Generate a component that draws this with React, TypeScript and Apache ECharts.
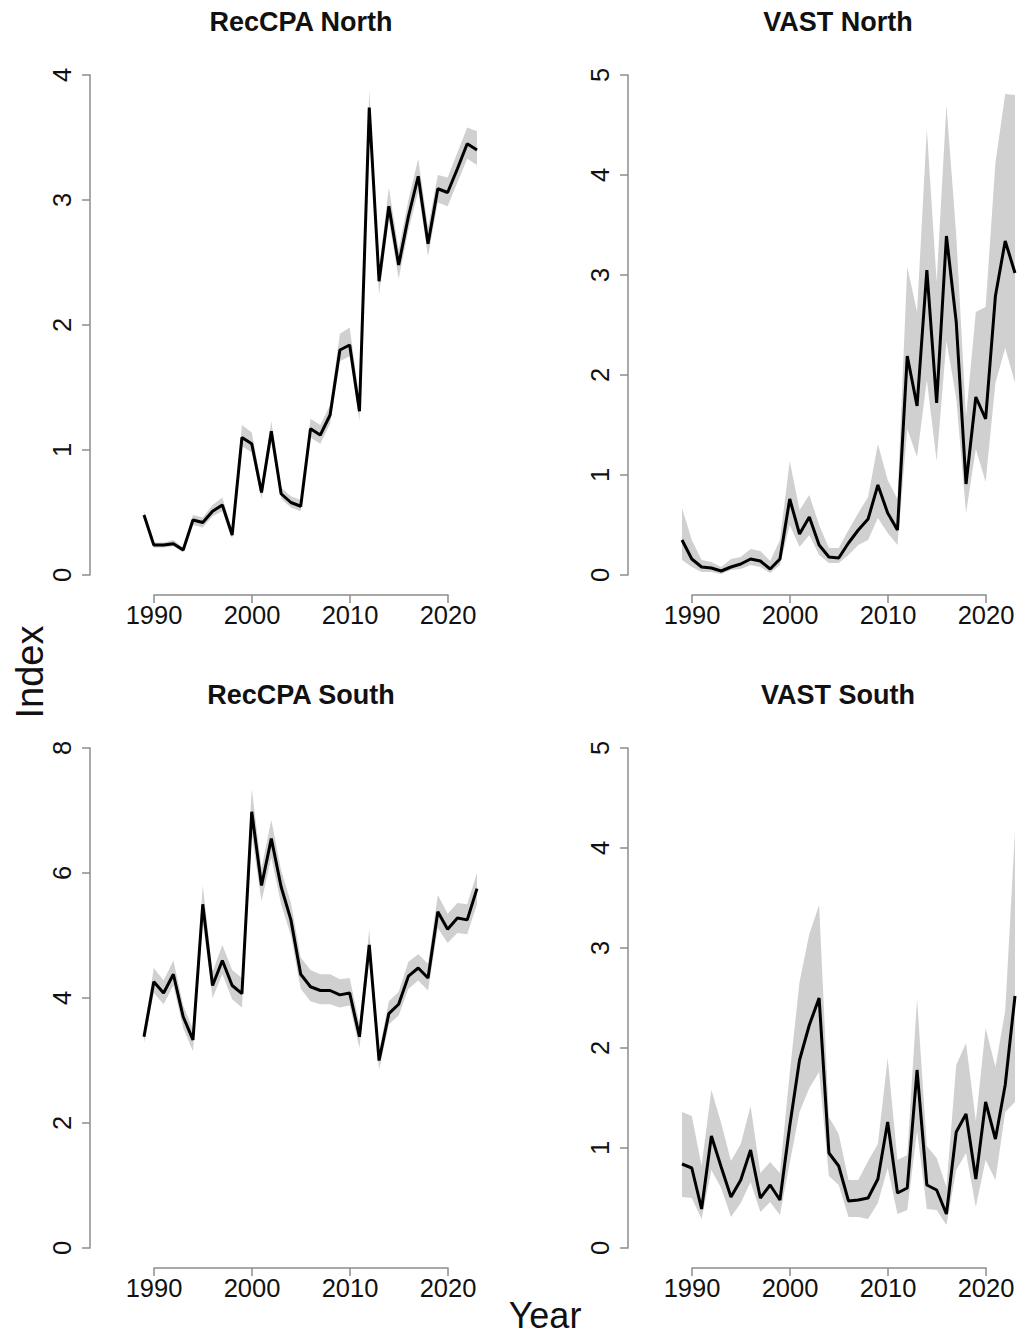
import React, { useEffect, useRef } from "react";
import * as echarts from "echarts";

const years = [1989, 1990, 1991, 1992, 1993, 1994, 1995, 1996, 1997, 1998, 1999, 2000, 2001, 2002, 2003, 2004, 2005, 2006, 2007, 2008, 2009, 2010, 2011, 2012, 2013, 2014, 2015, 2016, 2017, 2018, 2019, 2020, 2021, 2022, 2023];

const xTickMin = 1990;
const xTickMax = 2020;
const xTickStep = 10;

// RecCPA North
const recNorthMean = [0.48, 0.24, 0.24, 0.25, 0.2, 0.44, 0.42, 0.51, 0.56, 0.32, 1.1, 1.05, 0.66, 1.15, 0.65, 0.58, 0.55, 1.17, 1.12, 1.28, 1.8, 1.84, 1.31, 3.74, 2.35, 2.95, 2.48, 2.87, 3.19, 2.65, 3.09, 3.06, 3.25, 3.45, 3.4];
const recNorthLower = [0.45, 0.22, 0.22, 0.23, 0.18, 0.4, 0.38, 0.47, 0.51, 0.29, 1.03, 0.98, 0.61, 1.07, 0.61, 0.54, 0.51, 1.1, 1.05, 1.21, 1.71, 1.75, 1.23, 3.6, 2.24, 2.84, 2.37, 2.76, 3.07, 2.55, 2.98, 2.95, 3.14, 3.33, 3.28];
const recNorthUpper = [0.51, 0.26, 0.26, 0.28, 0.22, 0.48, 0.46, 0.56, 0.62, 0.36, 1.2, 1.14, 0.72, 1.23, 0.7, 0.63, 0.6, 1.25, 1.2, 1.36, 1.93, 1.98, 1.4, 3.88, 2.45, 3.1, 2.6, 3.0, 3.33, 2.78, 3.2, 3.18, 3.38, 3.58, 3.55];

// VAST North
const vastNorthMean = [0.35, 0.16, 0.08, 0.07, 0.04, 0.08, 0.11, 0.16, 0.14, 0.06, 0.16, 0.76, 0.41, 0.58, 0.3, 0.18, 0.17, 0.32, 0.45, 0.56, 0.9, 0.62, 0.45, 2.19, 1.69, 3.05, 1.72, 3.39, 2.53, 0.91, 1.78, 1.56, 2.79, 3.34, 3.02];
const vastNorthLower = [0.15, 0.08, 0.03, 0.03, 0.01, 0.05, 0.06, 0.1, 0.08, 0.02, 0.1, 0.5, 0.28, 0.4, 0.2, 0.12, 0.12, 0.2, 0.3, 0.35, 0.57, 0.42, 0.3, 1.46, 1.18, 1.95, 1.14, 2.34, 1.77, 0.62, 1.26, 0.93, 1.92, 2.27, 1.92];
const vastNorthUpper = [0.67, 0.35, 0.15, 0.13, 0.08, 0.16, 0.18, 0.26, 0.24, 0.14, 0.35, 1.14, 0.65, 0.8, 0.5, 0.27, 0.27, 0.45, 0.62, 0.78, 1.31, 0.95, 0.76, 3.08, 2.63, 4.46, 2.93, 4.7, 3.4, 1.58, 2.63, 2.68, 4.12, 4.81, 4.8];

// RecCPA South
const recSouthMean = [3.38, 4.26, 4.08, 4.38, 3.7, 3.33, 5.5, 4.2, 4.6, 4.2, 4.07, 6.98, 5.8, 6.55, 5.78, 5.25, 4.38, 4.18, 4.12, 4.12, 4.05, 4.08, 3.38, 4.85, 3.0, 3.75, 3.9, 4.35, 4.48, 4.32, 5.38, 5.1, 5.28, 5.25, 5.75];
const recSouthLower = [3.28, 4.08, 3.9, 4.2, 3.52, 3.15, 5.22, 4.0, 4.38, 3.98, 3.85, 6.62, 5.55, 6.25, 5.5, 5.0, 4.15, 3.95, 3.9, 3.9, 3.85, 3.88, 3.2, 4.62, 2.85, 3.58, 3.72, 4.15, 4.28, 4.12, 5.12, 4.88, 5.04, 5.02, 5.5];
const recSouthUpper = [3.48, 4.48, 4.28, 4.6, 3.88, 3.5, 5.8, 4.42, 4.85, 4.45, 4.32, 7.35, 6.08, 6.85, 6.05, 5.52, 4.65, 4.45, 4.38, 4.38, 4.3, 4.32, 3.58, 5.1, 3.15, 3.95, 4.1, 4.58, 4.7, 4.55, 5.65, 5.35, 5.52, 5.5, 6.0];

// VAST South
const vastSouthMean = [0.84, 0.8, 0.39, 1.12, 0.81, 0.51, 0.68, 0.98, 0.5, 0.63, 0.48, 1.22, 1.88, 2.23, 2.5, 0.95, 0.82, 0.47, 0.48, 0.5, 0.69, 1.26, 0.55, 0.6, 1.78, 0.63, 0.58, 0.34, 1.16, 1.34, 0.69, 1.46, 1.09, 1.63, 2.52];
const vastSouthLower = [0.51, 0.5, 0.29, 0.78, 0.6, 0.31, 0.45, 0.66, 0.36, 0.46, 0.33, 0.85, 1.36, 1.6, 1.76, 0.72, 0.63, 0.31, 0.31, 0.29, 0.45, 0.8, 0.34, 0.38, 1.17, 0.39, 0.38, 0.23, 0.78, 0.95, 0.41, 0.88, 0.68, 1.36, 1.46];
const vastSouthUpper = [1.36, 1.32, 0.82, 1.58, 1.25, 0.87, 1.04, 1.42, 0.75, 0.86, 0.75, 1.75, 2.66, 3.14, 3.43, 1.31, 1.14, 0.68, 0.68, 0.87, 1.04, 1.9, 0.88, 0.93, 2.49, 1.02, 0.9, 0.61, 1.83, 2.05, 1.27, 2.2, 1.81, 2.37, 4.17];

const panelTitles = ["RecCPA North", "VAST North", "RecCPA South", "VAST South"];
const panelYMax = [4, 5, 8, 5];
const panelYStep = [1, 1, 2, 1];

const panels = [
  { title: panelTitles[0], mean: recNorthMean, lower: recNorthLower, upper: recNorthUpper, ymax: panelYMax[0], ystep: panelYStep[0] },
  { title: panelTitles[1], mean: vastNorthMean, lower: vastNorthLower, upper: vastNorthUpper, ymax: panelYMax[1], ystep: panelYStep[1] },
  { title: panelTitles[2], mean: recSouthMean, lower: recSouthLower, upper: recSouthUpper, ymax: panelYMax[2], ystep: panelYStep[2] },
  { title: panelTitles[3], mean: vastSouthMean, lower: vastSouthLower, upper: vastSouthUpper, ymax: panelYMax[3], ystep: panelYStep[3] },
];

const FONT = "'Liberation Sans', Arial, Helvetica, sans-serif";
const AXIS_COLOR = "#8c8c8c";
const TEXT_COLOR = "#111111";
const BAND_COLOR = "#d0d0d0";

// layout (pixels)
const colLeft = [144, 682];
const rowTop = [75, 748];
const dataWidth = 333;
const plotHeight = 500;
const tickGridOffsetX = 10; // 1990 position relative to 1989
const tickGridWidth = 294;
const xAxisGap = 20;
const yAxisOffset = 54;
const titleY = [22, 695];
const titleX = [301, 838];

export default function App() {
  const ref = useRef<HTMLDivElement>(null);

  useEffect(() => {
    if (!ref.current) return;
    const chart = echarts.init(ref.current, null, { renderer: "svg" });

    const grid: any[] = [];
    const xAxis: any[] = [];
    const yAxis: any[] = [];
    const series: any[] = [];
    const graphic: any[] = [];

    panels.forEach((p, i) => {
      const col = i % 2;
      const row = Math.floor(i / 2);
      const left = colLeft[col];
      const top = rowTop[row];
      const dg = i * 2;
      const ag = i * 2 + 1;

      grid.push({ left, top, width: dataWidth, height: plotHeight });
      grid.push({ left: left + tickGridOffsetX, top, width: tickGridWidth, height: plotHeight + xAxisGap });

      xAxis.push({ type: "value", gridIndex: dg, min: years[0], max: years[years.length - 1], show: false });
      xAxis.push({
        type: "value",
        gridIndex: ag,
        min: xTickMin,
        max: xTickMax,
        interval: xTickStep,
        axisLine: { show: true, lineStyle: { color: AXIS_COLOR, width: 1.5 } },
        axisTick: { show: true, length: 8, lineStyle: { color: AXIS_COLOR, width: 1.5 } },
        axisLabel: {
          margin: 7,
          fontSize: 25.5,
          fontFamily: FONT,
          color: TEXT_COLOR,
          formatter: (v: number) => String(v),
        },
        splitLine: { show: false },
      });

      yAxis.push({
        type: "value",
        gridIndex: dg,
        min: 0,
        max: p.ymax,
        interval: p.ystep,
        offset: yAxisOffset,
        axisLine: { show: true, lineStyle: { color: AXIS_COLOR, width: 1.5 } },
        axisTick: { show: true, length: 8, lineStyle: { color: AXIS_COLOR, width: 1.5 } },
        axisLabel: { rotate: 90, margin: 15, fontSize: 25.5, fontFamily: FONT, color: TEXT_COLOR },
        splitLine: { show: false },
      });
      yAxis.push({ type: "value", gridIndex: ag, min: 0, max: 1, show: false });

      const lower = p.lower;
      const upper = p.upper;
      series.push({
        type: "custom",
        xAxisIndex: dg,
        yAxisIndex: dg,
        silent: true,
        clip: false,
        data: years.map((y, k) => [y, lower[k], upper[k]]),
        encode: { x: 0, y: [1, 2] },
        renderItem: (params: any, api: any) => {
          if (params.dataIndex !== 0) return null;
          const pts: number[][] = [];
          for (let k = 0; k < years.length; k++) pts.push(api.coord([years[k], upper[k]]));
          for (let k = years.length - 1; k >= 0; k--) pts.push(api.coord([years[k], lower[k]]));
          return {
            type: "polygon",
            shape: { points: pts },
            style: { fill: BAND_COLOR, stroke: null },
          };
        },
        z: 1,
      });
      series.push({
        type: "line",
        xAxisIndex: dg,
        yAxisIndex: dg,
        symbol: "none",
        silent: true,
        clip: false,
        lineStyle: { color: "#000000", width: 3 },
        data: years.map((y, k) => [y, p.mean[k]]),
        z: 3,
      });

      graphic.push({
        type: "text",
        x: titleX[col],
        y: titleY[row],
        style: {
          text: p.title,
          font: `bold 27px ${FONT}`,
          fill: TEXT_COLOR,
          align: "center",
          verticalAlign: "middle",
        },
      });
    });

    graphic.push({
      type: "text",
      x: 30,
      y: 672,
      rotation: Math.PI / 2,
      style: { text: "Index", font: `38px ${FONT}`, fill: TEXT_COLOR, align: "center", verticalAlign: "middle" },
    });
    graphic.push({
      type: "text",
      x: 545,
      y: 1315,
      style: { text: "Year", font: `36px ${FONT}`, fill: TEXT_COLOR, align: "center", verticalAlign: "middle" },
    });

    chart.setOption({
      animation: false,
      backgroundColor: "#ffffff",
      grid,
      xAxis,
      yAxis,
      series,
      graphic,
    });

    return () => chart.dispose();
  }, []);

  return (
    <div
      ref={ref}
      style={{ position: "fixed", left: 0, top: 0, width: 1019, height: 1336, background: "#ffffff" }}
    />
  );
}
